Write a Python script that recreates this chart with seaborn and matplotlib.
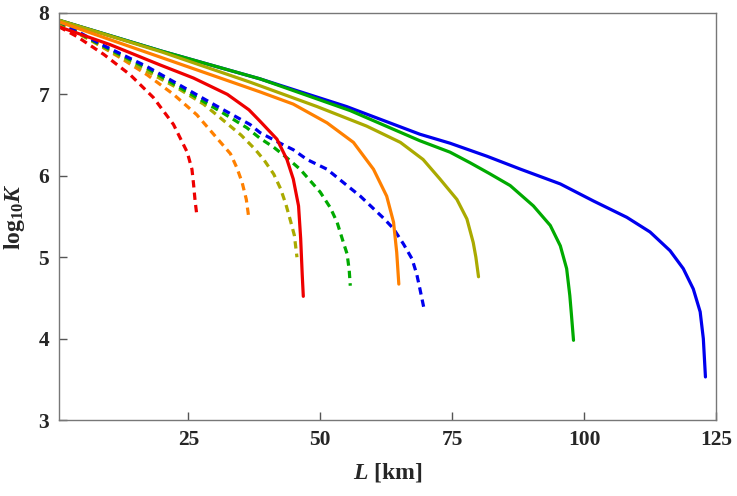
import numpy as np
import pandas as pd
import matplotlib
matplotlib.use("Agg")
import matplotlib.pyplot as plt
import seaborn as sns

# =========================
# data (L in km, log10 K)
# =========================
blue_solid_L = [0.5, 20, 38.6, 55, 68.9, 74.6, 81.6, 88.0, 95.5, 101.8, 108.1, 112.5, 116.3, 118.8, 120.7, 122.0, 122.6, 123.0]
blue_solid_K = [7.91, 7.53, 7.19, 6.85, 6.51, 6.40, 6.24, 6.08, 5.90, 5.69, 5.49, 5.31, 5.08, 4.86, 4.61, 4.33, 4.00, 3.53]

green_solid_L = [0.5, 20, 38.6, 55.7, 68.9, 74.6, 78.4, 82.0, 86.0, 90.4, 93.6, 95.5, 96.7, 97.3, 97.6, 98.0]
green_solid_K = [7.91, 7.53, 7.19, 6.80, 6.43, 6.29, 6.16, 6.03, 5.88, 5.63, 5.39, 5.14, 4.86, 4.53, 4.30, 3.98]

olive_solid_L = [0.5, 20, 36.7, 49.4, 58.8, 65.2, 69.5, 72.7, 75.9, 77.8, 79.0, 79.5, 80.0]
olive_solid_K = [7.91, 7.52, 7.15, 6.85, 6.61, 6.41, 6.20, 5.96, 5.71, 5.47, 5.18, 5.00, 4.76]

orange_solid_L = [0.5, 20, 38.6, 44.9, 51.3, 56.3, 60.1, 62.6, 63.9, 64.5, 64.9]
orange_solid_K = [7.89, 7.45, 7.03, 6.88, 6.65, 6.41, 6.08, 5.75, 5.43, 5.06, 4.67]

red_solid_L = [0.5, 10.2, 19.7, 26.0, 32.4, 36.5, 38.6, 41.8, 43.7, 44.9, 45.9, 46.3, 46.6, 46.8]
red_solid_K = [7.83, 7.61, 7.36, 7.20, 7.00, 6.81, 6.67, 6.45, 6.20, 5.96, 5.63, 5.23, 4.78, 4.52]

blue_dash_L = [0.5, 8, 17.2, 31.1, 36.7, 38.6, 42.1, 44.9, 47.5, 51.3, 55.1, 57.6, 62.0, 63.9, 65.8, 67.4, 68.3, 68.9, 69.7]
blue_dash_K = [7.90, 7.63, 7.34, 6.83, 6.63, 6.53, 6.41, 6.32, 6.20, 6.08, 5.88, 5.75, 5.48, 5.35, 5.16, 4.98, 4.79, 4.61, 4.36]

green_dash_L = [0.5, 8, 17.2, 31.1, 36.1, 38.6, 41.2, 43.7, 46.2, 48.1, 50.0, 51.9, 53.2, 54.4, 55.1, 55.5, 55.7]
green_dash_K = [7.89, 7.62, 7.32, 6.79, 6.59, 6.46, 6.35, 6.22, 6.08, 5.94, 5.80, 5.61, 5.43, 5.18, 5.04, 4.84, 4.65]

olive_dash_L = [0.5, 8, 17.2, 22.9, 27.9, 31.1, 35.0, 37.6, 39.4, 41.2, 42.5, 43.5, 44.4, 45.1, 45.6]
olive_dash_K = [7.88, 7.61, 7.28, 7.08, 6.88, 6.71, 6.50, 6.33, 6.19, 6.02, 5.84, 5.65, 5.44, 5.27, 5.00]

orange_dash_L = [0.5, 6.4, 12.1, 17.2, 22.2, 26.6, 30.6, 33.0, 34.2, 35.2, 36.0, 36.5]
orange_dash_K = [7.87, 7.67, 7.45, 7.24, 7.00, 6.75, 6.45, 6.27, 6.10, 5.92, 5.71, 5.47]

red_dash_L = [0.5, 3.9, 9.0, 14.0, 18.4, 22.2, 24.8, 25.7, 26.0, 26.3, 26.6]
red_dash_K = [7.83, 7.71, 7.49, 7.24, 6.96, 6.63, 6.29, 6.08, 5.90, 5.69, 5.53]

curves = [
    ("red dashed", red_dash_L, red_dash_K),
    ("orange dashed", orange_dash_L, orange_dash_K),
    ("olive dashed", olive_dash_L, olive_dash_K),
    ("green dashed", green_dash_L, green_dash_K),
    ("blue dashed", blue_dash_L, blue_dash_K),
    ("blue solid", blue_solid_L, blue_solid_K),
    ("green solid", green_solid_L, green_solid_K),
    ("olive solid", olive_solid_L, olive_solid_K),
    ("orange solid", orange_solid_L, orange_solid_K),
    ("red solid", red_solid_L, red_solid_K),
]

colors = {"red": "#ee0000", "orange": "#ff8000", "olive": "#aaaa00",
          "green": "#00aa00", "blue": "#0000ee"}

df = pd.concat([pd.DataFrame({"L": L, "logK": K, "curve": name})
                for name, L, K in curves], ignore_index=True)

palette = {name: colors[name.split()[0]] for name, _, _ in curves}
dashes = {name: ((2.3, 1.6) if "dashed" in name else "") for name, _, _ in curves}

# =========================
# plot
# =========================
sns.set_style("ticks")
plt.rcParams["font.family"] = ["Liberation Serif", "DejaVu Serif"]
plt.rcParams["font.weight"] = "bold"
plt.rcParams["mathtext.fontset"] = "custom"
plt.rcParams["mathtext.rm"] = "Liberation Serif:bold"
plt.rcParams["mathtext.it"] = "Liberation Serif:bold:italic"
plt.rcParams["mathtext.bf"] = "Liberation Serif:bold"

fig = plt.figure(figsize=(7.37, 4.96), dpi=100)
ax = fig.add_axes([0.080, 0.153, 0.8915, 0.821])

sns.lineplot(data=df, x="L", y="logK", hue="curve", style="curve",
             palette=palette, dashes=dashes, sort=False, estimator=None,
             legend=False, linewidth=2.3, ax=ax)
for line in ax.get_lines():
    line.set_solid_joinstyle("round")
    line.set_dash_joinstyle("round")

ax.set_xlim(0.5, 125)
ax.set_ylim(3, 8)
ax.set_xticks([25, 50, 75, 100, 125])
ax.set_yticks([3, 4, 5, 6, 7, 8])
ax.tick_params(direction="in", length=6, width=1, labelsize=15.5, color="#555555", pad=7)
for s in ax.spines.values():
    s.set_color("#777777")
    s.set_linewidth(1)
for lab in ax.get_xticklabels() + ax.get_yticklabels():
    lab.set_fontweight("bold")

ax.set_xlabel(r"$L$ [km]", fontsize=17, fontweight="bold", labelpad=8)
ax.set_ylabel(r"$\mathrm{log}_{10}K$", fontsize=17, fontweight="bold", labelpad=8)

fig.savefig("out.png", dpi=100)
